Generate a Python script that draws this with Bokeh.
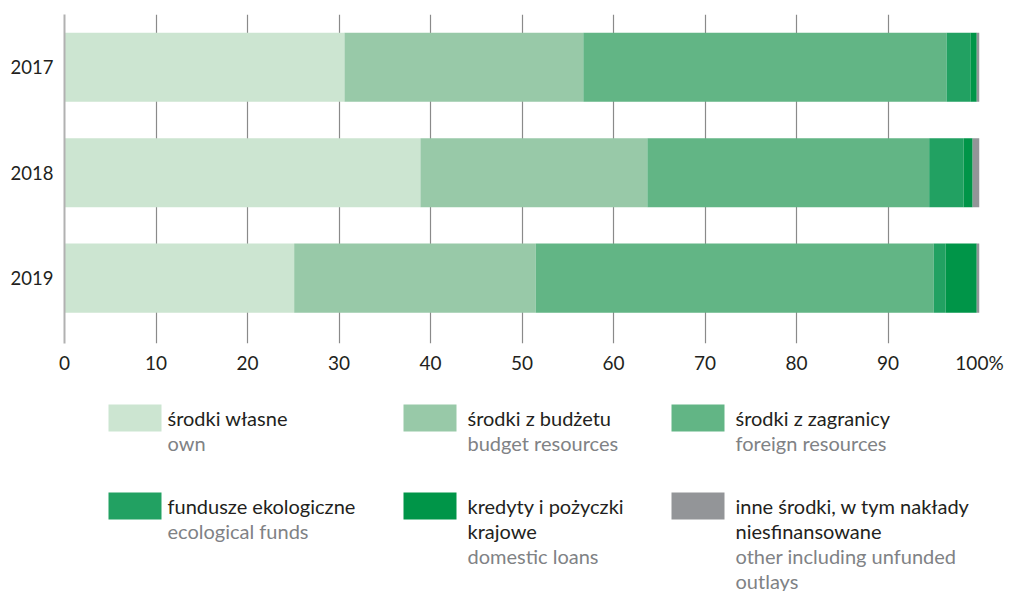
from bokeh.plotting import figure
from bokeh.models import ColumnDataSource, Range1d, FixedTicker
from bokeh.layouts import column
from bokeh.embed import file_html
from bokeh.resources import INLINE
from bokeh.core.properties import value

# Investment outlays by source of financing, % of total
years = ["2017", "2018", "2019"]
own = [30.6, 38.9, 25.1]
budget = [26.1, 24.8, 26.4]
foreign = [39.7, 30.8, 43.5]
eco = [2.6, 3.75, 1.3]
loans = [0.7, 1.0, 3.4]
other = [0.3, 0.75, 0.3]

series_keys = ["own", "budget", "foreign", "eco", "loans", "other"]
colors = ["#cce5d1", "#98c9a8", "#62b585", "#22a162", "#009548", "#939598"]
labels_pl = [["środki własne"], ["środki z budżetu"], ["środki z zagranicy"],
             ["fundusze ekologiczne"], ["kredyty i pożyczki", "krajowe"],
             ["inne środki, w tym nakłady", "niesfinansowane"]]
labels_en = [["own"], ["budget resources"], ["foreign resources"],
             ["ecological funds"], ["domestic loans"],
             ["other including unfunded", "outlays"]]

x_ticks = [0, 10, 20, 30, 40, 50, 60, 70, 80, 90, 100]
x_tick_labels = ["0", "10", "20", "30", "40", "50", "60", "70", "80", "90", "100%"]

FONT = "Lato"
DARK = "#231f20"
GREY_TXT = "#808285"

src = ColumnDataSource(dict(
    pos=list(range(len(years))),
    own=own, budget=budget, foreign=foreign, eco=eco, loans=loans, other=other,
))

p = figure(width=1015, height=385, output_backend="svg", toolbar_location=None,
           x_range=Range1d(0, 100), y_range=Range1d(2.62, -0.5),
           min_border_left=64, min_border_right=36, min_border_top=14,
           min_border_bottom=42)
p.outline_line_color = None
p.background_fill_color = "white"
p.border_fill_color = "white"

p.hbar_stack(series_keys, y="pos", height=0.655, color=colors, source=src,
             line_color=None)

# axes
p.xaxis.ticker = FixedTicker(ticks=x_ticks)
p.xaxis.major_label_overrides = {t: l for t, l in zip(x_ticks, x_tick_labels)}
p.xaxis.axis_line_color = None
p.xaxis.major_tick_line_color = None
p.xaxis.minor_tick_line_color = None
p.xaxis.major_label_standoff = 1
p.xaxis.major_label_text_font = FONT
p.xaxis.major_label_text_font_size = "19px"
p.xaxis.major_label_text_color = DARK

p.yaxis.ticker = FixedTicker(ticks=list(range(len(years))))
p.yaxis.major_label_overrides = {i: y for i, y in enumerate(years)}
p.yaxis.axis_line_color = "#b1b1b1"
p.yaxis.axis_line_width = 2
p.yaxis.major_tick_line_color = None
p.yaxis.minor_tick_line_color = None
p.yaxis.major_label_standoff = 5
p.yaxis.major_label_text_font = FONT
p.yaxis.major_label_text_font_size = "18.5px"
p.yaxis.major_label_text_color = DARK

p.xgrid.ticker = FixedTicker(ticks=x_ticks[1:])
p.xgrid.grid_line_color = "#8a8a8a"
p.xgrid.grid_line_width = 1.2
p.ygrid.grid_line_color = None

# legend panel; x in page pixels over the same frame span as the chart,
# y in page pixels
lg = figure(width=1015, height=206, output_backend="svg", toolbar_location=None,
            x_range=Range1d(64, 979), y_range=Range1d(591, 385),
            min_border_left=64, min_border_right=36,
            min_border_top=0, min_border_bottom=0)
lg.axis.visible = False
lg.grid.visible = False
lg.outline_line_color = None
lg.border_fill_color = "white"
lg.background_fill_color = "white"

col_swatch_x = [108, 403, 671]
col_text_x = [167, 467, 735]
row_top = [404, 492]
sw_w, sw_h = 53, 27
line_gap = 25

sw = dict(left=[], right=[], top=[], bottom=[], color=[])
t_dark = dict(x=[], y=[], text=[])
t_grey = dict(x=[], y=[], text=[])
for i, key in enumerate(series_keys):
    r, c = divmod(i, 3)
    sw["left"].append(col_swatch_x[c])
    sw["right"].append(col_swatch_x[c] + sw_w)
    sw["top"].append(row_top[r])
    sw["bottom"].append(row_top[r] + sw_h)
    sw["color"].append(colors[i])
    yy = row_top[r] + 13
    for line in labels_pl[i]:
        t_dark["x"].append(col_text_x[c]); t_dark["y"].append(yy); t_dark["text"].append(line)
        yy += line_gap
    for line in labels_en[i]:
        t_grey["x"].append(col_text_x[c]); t_grey["y"].append(yy); t_grey["text"].append(line)
        yy += line_gap

lg.quad(left="left", right="right", top="top", bottom="bottom", color="color",
        line_color=None, source=ColumnDataSource(sw))
lg.text(x="x", y="y", text="text", source=ColumnDataSource(t_dark),
        text_font=value(FONT), text_font_size="20px", text_color=DARK,
        text_baseline="middle", text_align="left")
lg.text(x="x", y="y", text="text", source=ColumnDataSource(t_grey),
        text_font=value(FONT), text_font_size="20px", text_color=GREY_TXT,
        text_baseline="middle", text_align="left")

layout = column(p, lg, spacing=0)
open("out.html", "w").write(file_html(layout, INLINE))
